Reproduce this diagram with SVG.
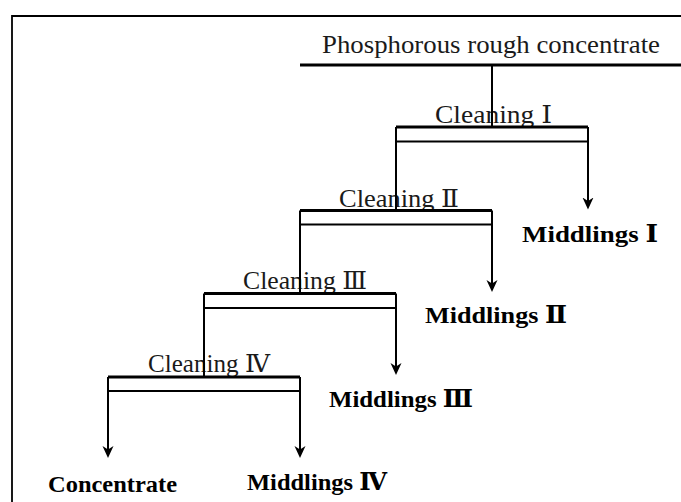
<svg xmlns="http://www.w3.org/2000/svg" width="681" height="502" viewBox="0 0 681 502">
<defs>
<style>
.frame{fill:none;stroke:#000;stroke-width:1.8}
.bar{stroke:#000;stroke-width:3.2;fill:none}
.thin{stroke:#000;stroke-width:2;fill:none}
.lbl{font-family:"Liberation Serif","DejaVu Serif","Noto Sans CJK SC",serif;font-size:24.5px;fill:#1a1a1a}
.out{font-family:"Liberation Serif","DejaVu Serif","Noto Sans CJK SC",serif;font-size:24px;font-weight:bold;fill:#000}
</style>
<marker id="arr" markerUnits="userSpaceOnUse" markerWidth="12" markerHeight="14" viewBox="0 0 12 14" refX="6" refY="7" orient="auto">
<path d="M0,1.5 L12,7 L0,12.5 L3.5,7 Z" fill="#000"/>
</marker>
</defs>
<rect width="681" height="502" fill="#fff"/>
<path class="frame" d="M12,502 V16 H681"/>

<g id="feed">
<line class="bar" x1="300" y1="65" x2="681" y2="65"/>
<text class="lbl" x="322" y="53" textLength="338" lengthAdjust="spacingAndGlyphs">Phosphorous rough concentrate</text>
</g>

<g id="cleaning1">
<text class="lbl" x="435" y="123" textLength="117" lengthAdjust="spacingAndGlyphs">Cleaning Ⅰ</text>
<line class="bar" x1="396" y1="127" x2="588" y2="127"/>
<line class="thin" x1="396" y1="141.5" x2="588" y2="141.5"/>
</g>
<g id="cleaning2">
<text class="lbl" x="339" y="206.5" textLength="120" lengthAdjust="spacingAndGlyphs">Cleaning Ⅱ</text>
<line class="bar" x1="300" y1="210.5" x2="492" y2="210.5"/>
<line class="thin" x1="300" y1="224.5" x2="492" y2="224.5"/>
</g>
<g id="cleaning3">
<text class="lbl" x="243" y="289" textLength="124" lengthAdjust="spacingAndGlyphs">Cleaning Ⅲ</text>
<line class="bar" x1="204" y1="293.5" x2="396" y2="293.5"/>
<line class="thin" x1="204" y1="308" x2="396" y2="308"/>
</g>
<g id="cleaning4">
<text class="lbl" x="148" y="372" textLength="122" lengthAdjust="spacingAndGlyphs">Cleaning Ⅳ</text>
<line class="bar" x1="108" y1="377" x2="300" y2="377"/>
<line class="thin" x1="108" y1="391" x2="300" y2="391"/>
</g>

<g id="middlings1"><text class="out" x="522" y="242" textLength="136" lengthAdjust="spacingAndGlyphs">Middlings Ⅰ</text></g>
<g id="middlings2"><text class="out" x="425" y="323" textLength="142" lengthAdjust="spacingAndGlyphs">Middlings Ⅱ</text></g>
<g id="middlings3"><text class="out" x="329" y="407" textLength="144" lengthAdjust="spacingAndGlyphs">Middlings Ⅲ</text></g>
<g id="middlings4"><text class="out" x="247" y="490" textLength="140" lengthAdjust="spacingAndGlyphs">Middlings Ⅳ</text></g>
<g id="concentrate"><text class="out" x="48" y="492" textLength="129" lengthAdjust="spacingAndGlyphs">Concentrate</text></g>

<g id="connectors">
<line class="thin" x1="492" y1="65" x2="492" y2="127"/>
<line class="thin" x1="396" y1="127" x2="396" y2="210.5"/>
<line class="thin" x1="300" y1="210.5" x2="300" y2="293.5"/>
<line class="thin" x1="204" y1="293.5" x2="204" y2="377"/>
<line class="thin" x1="588" y1="127" x2="588" y2="203.5" marker-end="url(#arr)"/>
<line class="thin" x1="492" y1="210.5" x2="492" y2="286" marker-end="url(#arr)"/>
<line class="thin" x1="396" y1="293.5" x2="396" y2="369" marker-end="url(#arr)"/>
<line class="thin" x1="300" y1="377" x2="300" y2="452" marker-end="url(#arr)"/>
<line class="thin" x1="108" y1="377" x2="108" y2="452" marker-end="url(#arr)"/>
</g>
</svg>
